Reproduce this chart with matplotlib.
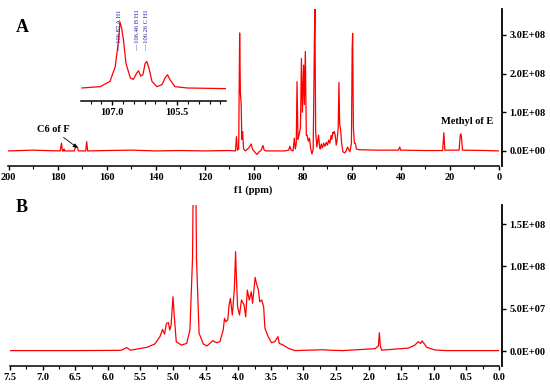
import numpy as np
import matplotlib
matplotlib.use("Agg")
import matplotlib.pyplot as plt
from matplotlib.ticker import MultipleLocator, FuncFormatter, FixedLocator

plt.rcParams['font.family'] = ['Liberation Serif', 'DejaVu Serif']

# ---------------- data ----------------
# 13C spectrum (ppm, intensity in units of 1e8)
c13_ppm = [200, 190, 185, 179.0, 178.5, 178.1, 177.6, 177.4, 177.2, 173.2, 172.8, 172.4, 172.0, 171.6,
           168.6, 168.2, 167.8, 160, 150, 140, 130, 120, 110, 107.5, 107.1, 106.7, 106.2, 105.8, 105.5,
           105.2, 104.9, 104.6, 104.2, 103.5, 102.0, 101.1, 100.6, 100.0, 99.2, 98.7, 98.0, 97.0, 96.3,
           95.8, 95.0, 90, 87.5, 85.8, 85.3, 84.8, 84.0, 83.5, 83.1, 82.7, 82.4, 82.0, 81.6, 81.0, 80.6,
           80.2, 79.7, 79.4, 79.0, 78.6, 78.3, 77.8, 77.3, 76.8, 76.3, 75.8, 75.3, 75.1, 74.8, 74.3, 73.6,
           73.2, 72.9, 72.5, 72.0, 71.5, 71.0, 70.5, 70.0, 69.5, 69.0, 68.5, 68.2, 67.8, 67.5, 67.2, 66.8,
           66.4, 66.0, 65.6, 65.3, 65.0, 64.6, 64.2, 63.7, 63.0, 62.5, 61.8, 61.4, 60.8, 60.2, 59.9, 59.7,
           59.4, 59.0, 58.6, 58.2, 57.0, 50, 41.0, 40.5, 40.1, 30, 23.0, 22.5, 22.1, 16.3, 15.8, 15.6,
           15.3, 14.9, 5, 0]
c13_int = [0.0, 0.02, 0.01, 0.0, 0.20, 0.0, 0.0, 0.05, 0.0, 0.0, 0.10, 0.13, 0.10, 0.0,
           0.0, 0.24, 0.0, 0.01, 0.02, 0.0, 0.01, 0.0, 0.01, 0.0, 0.37, 0.02, 0.05, 3.05, 1.5,
           1.24, 0.3, 0.5, 0.05, 0.0, 0.08, 0.18, 0.05, 0.0, -0.06, -0.09, -0.03, 0.02, 0.14,
           0.02, 0.0, 0.0, 0.0, 0.02, 0.12, 0.02, 0.0, 0.33, 0.05, 0.2, 1.79, 0.3, 0.4, 0.6, 2.39,
           1.0, 2.22, 1.2, 2.57, 0.4, 0.41, 0.25, 0.33, 0.05, -0.08, 0.05, 2.87, 3.7, 0.5, 0.1, 0.41,
           0.1, 0.05, 0.18, 0.08, 0.2, 0.12, 0.22, 0.15, 0.28, 0.2, 0.4, 0.3, 0.48, 0.45, 0.5, 0.4,
           0.15, 0.3, 0.6, 1.77, 0.7, 0.54, 0.2, -0.02, -0.05, -0.02, 0.1, 0.05, -0.02, 0.2, 2.65, 3.04,
           0.6, 0.2, 0.2, 0.05, 0.03, 0.02, 0.02, 0.10, 0.02, 0.01, 0.01, 0.47, 0.02, 0.02, 0.40, 0.44,
           0.35, 0.02, 0.01, 0.0]

# inset: anomeric region (ppm, relative intensity)
ins_ppm = [107.70, 107.28, 107.05, 106.93, 106.85, 106.82, 106.78, 106.74, 106.68, 106.58, 106.51,
           106.43, 106.39, 106.34, 106.29, 106.24, 106.20, 106.15, 106.08, 105.97, 105.85, 105.78,
           105.72, 105.66, 105.55, 105.27, 104.37]
ins_int = [0.0, 0.02, 0.10, 0.32, 0.73, 1.0, 0.9, 0.73, 0.37, 0.15, 0.13,
           0.23, 0.26, 0.18, 0.20, 0.37, 0.40, 0.30, 0.10, 0.02, 0.05, 0.15,
           0.20, 0.12, 0.02, 0.0, -0.01]
ins_ticks = [107.0, 105.5]
ins_labels = ["106.87 A H1", "106.46 B H1", "106.26 C H1"]
ins_label_ppm = [106.82, 106.42, 106.21]

# 1H spectrum (ppm, intensity in units of 1e7)
h1_ppm = [7.5, 6.5, 5.8, 5.71, 5.65, 5.40, 5.28, 5.20, 5.16, 5.13, 5.10, 5.07, 5.05, 5.03, 5.00,
          4.98, 4.95, 4.87, 4.79, 4.74, 4.70, 4.69, 4.65, 4.64, 4.60, 4.535, 4.48, 4.39, 4.33, 4.28,
          4.23, 4.21, 4.19, 4.16, 4.14, 4.12, 4.09, 4.06, 4.04, 4.03, 4.01, 3.98, 3.95, 3.91, 3.885,
          3.86, 3.83, 3.80, 3.78, 3.74, 3.72, 3.69, 3.67, 3.64, 3.61, 3.59, 3.54, 3.49, 3.44, 3.39,
          3.37, 3.31, 3.23, 3.13, 2.7, 2.6, 2.4, 1.90, 1.85, 1.835, 1.82, 1.80, 1.39, 1.29, 1.24,
          1.20, 1.18, 1.15, 1.11, 0.98, 0.8, 0.0]
h1_int = [0.05, 0.05, 0.08, 0.4, 0.1, 0.44, 0.83, 1.7, 2.56, 2.0, 3.27, 3.35, 2.48, 3.0, 6.42,
          4.05, 1.1, 0.7, 0.9, 2.5, 11.1, 20.0, 20.0, 11.0, 2.1, 0.83, 0.6, 1.22, 0.98, 1.1,
          2.48, 3.86, 3.47, 3.66, 5.44, 6.23, 4.26, 7.2, 11.74, 9.19, 5.24, 4.26, 6.03, 5.44, 4.05,
          7.2, 6.03, 7.0, 5.64, 8.7, 8.0, 7.2, 5.83, 6.03, 5.24, 2.68, 1.7, 0.98, 1.1, 1.7,
          0.9, 0.7, 0.32, 0.05, 0.15, 0.1, 0.05, 0.28, 0.6, 2.16, 0.6, 0.1, 0.35, 0.7, 1.1,
          0.9, 1.2, 0.9, 0.44, 0.12, 0.05, 0.05]

c13_ticks = [200, 180, 160, 140, 120, 100, 80, 60, 40, 20, 0]
c13_yticks = [0.0, 1e8, 2e8, 3e8]
h1_ticks = [7.5, 7.0, 6.5, 6.0, 5.5, 5.0, 4.5, 4.0, 3.5, 3.0, 2.5, 2.0, 1.5, 1.0, 0.5, 0.0]
h1_yticks = [0.0, 5e7, 1e8, 1.5e8]

RED = '#ff0000'
W, H = 550, 389
fig = plt.figure(figsize=(W / 100, H / 100), dpi=100)

def fmt_sci(v, pos):
    return f"{v:.1E}"

def style_main(ax):
    for s in ['left', 'top']:
        ax.spines[s].set_visible(False)
    ax.spines['right'].set_position(('outward', 2.5))
    ax.spines['right'].set_linewidth(1.3)
    ax.spines['bottom'].set_linewidth(1.1)
    ax.yaxis.tick_right()
    ax.tick_params(axis='both', which='major', length=3, width=1, labelsize=7.5, pad=2)
    ax.tick_params(axis='both', which='minor', length=1.8, width=0.8)
    ax.yaxis.set_major_formatter(FuncFormatter(fmt_sci))
    for lab in ax.get_xticklabels() + ax.get_yticklabels():
        lab.set_fontweight('bold')

# -------- panel A --------
axA = fig.add_axes([8 / W, 1 - 166 / H, 491 / W, 157 / H])
axA.plot(c13_ppm, np.array(c13_int) * 1e8, color=RED, lw=0.9)
axA.set_xlim(200.3, 0)
axA.set_ylim(-0.39e8, 3.67e8)
axA.set_xticks(c13_ticks)
axA.xaxis.set_minor_locator(MultipleLocator(10))
axA.set_yticks(c13_yticks)
style_main(axA)
axA.set_xlabel('f1 (ppm)', fontsize=7.5, fontweight='bold', labelpad=2.5)
axA.annotate('C6 of F', xy=(172.0, 0.08e8), xytext=(182, 0.56e8), fontsize=7.5,
             fontweight='bold', ha='center', va='center',
             arrowprops=dict(arrowstyle='-|>', color='black', lw=0.6, mutation_scale=6,
                             shrinkA=1, shrinkB=0))
axA.text(13.0, 0.75e8, 'Methyl of E', fontsize=7.5, fontweight='bold', ha='center', va='center')

# inset
axI = fig.add_axes([81 / W, 1 - 101 / H, 145 / W, 93 / H])
axI.patch.set_alpha(0)
axI.plot(ins_ppm, ins_int, color=RED, lw=0.9)
axI.set_xlim(107.72, 104.37)
axI.set_ylim(-0.197, 1.21)
for s in ['left', 'top', 'right']:
    axI.spines[s].set_visible(False)
axI.spines['bottom'].set_linewidth(1.1)
axI.set_yticks([])
axI.xaxis.set_major_locator(FixedLocator(ins_ticks))
axI.xaxis.set_minor_locator(MultipleLocator(0.25))
axI.xaxis.set_major_formatter(FuncFormatter(lambda v, p: f"{v:.1f}"))
axI.tick_params(axis='x', which='major', length=3, width=1, labelsize=7.5, pad=2)
axI.tick_params(axis='x', which='minor', length=1.8, width=0.8)
for lab in axI.get_xticklabels():
    lab.set_fontweight('bold')
for xp, lab in zip(ins_label_ppm, ins_labels):
    axI.text(xp, 0.985, '\u2014 ' + lab, transform=axI.get_xaxis_transform(), rotation=90,
             ha='center', va='top', fontsize=4.7, color='#1c1ca8')

# -------- panel B --------
axB = fig.add_axes([10 / W, 1 - 366 / H, 489 / W, 161 / H])
axB.plot(h1_ppm, np.array(h1_int) * 1e7, color=RED, lw=0.9)
axB.set_xlim(7.5, 0)
axB.set_ylim(-1.77e7, 1.726e8)
axB.set_xticks(h1_ticks)
axB.xaxis.set_major_formatter(FuncFormatter(lambda v, p: f"{v:.1f}"))
axB.xaxis.set_minor_locator(MultipleLocator(0.25))
axB.set_yticks(h1_yticks)
style_main(axB)

fig.text(22 / W, 1 - 28 / H, 'A', fontsize=13, fontweight='bold', ha='center', va='center')
fig.text(22 / W, 1 - 208 / H, 'B', fontsize=13, fontweight='bold', ha='center', va='center')

fig.savefig('out.png', dpi=100)
